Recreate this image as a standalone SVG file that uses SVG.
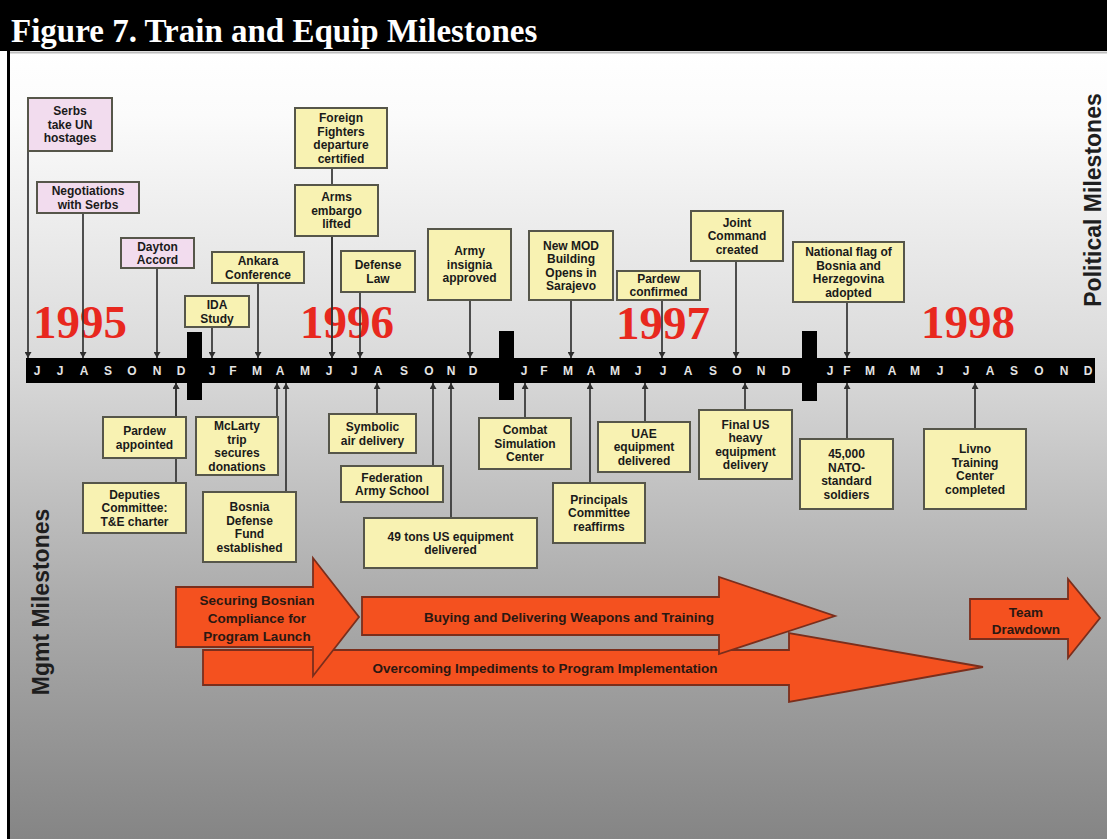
<svg xmlns="http://www.w3.org/2000/svg" width="1107" height="839" viewBox="0 0 1107 839">
<defs>
<linearGradient id="bg" x1="0" y1="0" x2="0" y2="1">
<stop offset="0" stop-color="#ffffff"/>
<stop offset="0.08" stop-color="#fbfbfb"/>
<stop offset="0.4" stop-color="#d9d9d9"/>
<stop offset="0.7" stop-color="#ababab"/>
<stop offset="1" stop-color="#858585"/>
</linearGradient>
<marker id="ah" markerUnits="userSpaceOnUse" markerWidth="7" markerHeight="7" refX="6" refY="3.5" orient="auto">
<path d="M0,0 L6,3.5 L0,7 Z" fill="#2e2e2e"/>
</marker>
<style>
.by{fill:#f8f2b2;stroke:#56564a;stroke-width:2}
.bp{fill:#f2dcee;stroke:#56564a;stroke-width:2}
.bt{font-family:"Liberation Sans",Arial,sans-serif;font-weight:bold;font-size:12px;fill:#1a1a1a;text-anchor:middle}
.conn{stroke:#333333;stroke-width:1.7;fill:none;marker-end:url(#ah)}
.month{font-family:"Liberation Sans",Arial,sans-serif;font-weight:bold;font-size:12px;fill:#e4e4e4;text-anchor:middle}
.year{font-family:"Liberation Serif","Times New Roman",serif;font-weight:bold;font-size:47px;fill:#e8281e;text-anchor:middle}
.arr{fill:#f4511f;stroke:#7a2e1c;stroke-width:1.8;stroke-linejoin:miter}
.at{font-family:"Liberation Sans",Arial,sans-serif;font-weight:bold;font-size:13.5px;fill:#2a1812;text-anchor:middle}
.side{font-family:"Liberation Sans",Arial,sans-serif;font-weight:bold;font-size:23px;fill:#1e1e1e;text-anchor:middle}
</style>
</defs>
<rect x="0" y="0" width="1107" height="839" fill="#ffffff"/>
<rect x="9" y="52" width="1098" height="787" fill="url(#bg)"/>
<rect x="0" y="0" width="1107" height="51" fill="#000000"/>
<line x1="9" y1="52.5" x2="1107" y2="52.5" stroke="#bdbdbd" stroke-width="2"/>
<rect x="7" y="51" width="3" height="788" fill="#000000"/>
<text x="11" y="42" font-family="Liberation Serif,'Times New Roman',serif" font-weight="bold" font-size="33" fill="#ffffff">Figure 7. Train and Equip Milestones</text>

<g id="side-labels">
<text class="side" transform="translate(1101,200) rotate(-90)">Political Milestones</text>
<text class="side" transform="translate(49,602) rotate(-90)">Mgmt Milestones</text>
</g>

<g id="timeline">
<rect x="187" y="332" width="15" height="68" fill="#000"/>
<rect x="499" y="331" width="15" height="69" fill="#000"/>
<rect x="802" y="331" width="15" height="70" fill="#000"/>
<rect x="26" y="358" width="1069" height="25" fill="#000"/>
<text class="month" y="375"><tspan x="37">J</tspan><tspan x="60">J</tspan><tspan x="84">A</tspan><tspan x="108">S</tspan><tspan x="132">O</tspan><tspan x="157">N</tspan><tspan x="181">D</tspan><tspan x="212">J</tspan><tspan x="233">F</tspan><tspan x="257">M</tspan><tspan x="280">A</tspan><tspan x="305">M</tspan><tspan x="329">J</tspan><tspan x="354">J</tspan><tspan x="378">A</tspan><tspan x="404">S</tspan><tspan x="429">O</tspan><tspan x="451">N</tspan><tspan x="473">D</tspan><tspan x="524">J</tspan><tspan x="544">F</tspan><tspan x="568">M</tspan><tspan x="591">A</tspan><tspan x="615">M</tspan><tspan x="638">J</tspan><tspan x="663">J</tspan><tspan x="688">A</tspan><tspan x="713">S</tspan><tspan x="737">O</tspan><tspan x="761">N</tspan><tspan x="786">D</tspan><tspan x="830">J</tspan><tspan x="847">F</tspan><tspan x="870">M</tspan><tspan x="892">A</tspan><tspan x="915">M</tspan><tspan x="940">J</tspan><tspan x="966">J</tspan><tspan x="990">A</tspan><tspan x="1014">S</tspan><tspan x="1039">O</tspan><tspan x="1064">N</tspan><tspan x="1088">D</tspan></text>
<text class="year" x="80" y="338">1995</text>
<text class="year" x="347" y="338">1996</text>
<text class="year" x="663" y="339">1997</text>
<text class="year" x="968" y="338">1998</text>
</g>

<g id="connectors">
<line class="conn" x1="28" y1="151" x2="28" y2="358"/>
<line class="conn" x1="83" y1="213" x2="83" y2="358"/>
<line class="conn" x1="157" y1="268" x2="157" y2="358"/>
<line class="conn" x1="212" y1="327" x2="212" y2="358"/>
<line class="conn" x1="258" y1="283" x2="258" y2="358"/>
<line class="conn" x1="332" y1="168" x2="332" y2="358"/>
<line class="conn" x1="332" y1="236" x2="332" y2="358"/>
<line class="conn" x1="360" y1="292" x2="360" y2="358"/>
<line class="conn" x1="470" y1="300" x2="470" y2="358"/>
<line class="conn" x1="571" y1="300" x2="571" y2="358"/>
<line class="conn" x1="662" y1="300" x2="662" y2="358"/>
<line class="conn" x1="736" y1="261" x2="736" y2="358"/>
<line class="conn" x1="847" y1="302" x2="847" y2="358"/>
<line class="conn" x1="176" y1="483" x2="176" y2="383"/>
<line class="conn" x1="176" y1="417" x2="176" y2="383"/>
<line class="conn" x1="277" y1="417" x2="277" y2="383"/>
<line class="conn" x1="286" y1="492" x2="286" y2="383"/>
<line class="conn" x1="377" y1="414" x2="377" y2="383"/>
<line class="conn" x1="433" y1="466" x2="433" y2="383"/>
<line class="conn" x1="451" y1="518" x2="451" y2="383"/>
<line class="conn" x1="525" y1="418" x2="525" y2="383"/>
<line class="conn" x1="590" y1="483" x2="590" y2="383"/>
<line class="conn" x1="645" y1="422" x2="645" y2="383"/>
<line class="conn" x1="745" y1="410" x2="745" y2="383"/>
<line class="conn" x1="847" y1="439" x2="847" y2="383"/>
<line class="conn" x1="975" y1="429" x2="975" y2="383"/>
</g>

<g id="n-serbs"><rect class="bp" x="28" y="98" width="84" height="53"/><text class="bt"><tspan x="70" y="115">Serbs</tspan><tspan x="70" y="128.5">take UN</tspan><tspan x="70" y="142">hostages</tspan></text></g>
<g id="n-negotiations"><rect class="bp" x="37" y="182" width="102" height="31"/><text class="bt"><tspan x="88" y="195">Negotiations</tspan><tspan x="88" y="208.5">with Serbs</tspan></text></g>
<g id="n-dayton"><rect class="bp" x="121" y="238" width="73" height="30"/><text class="bt"><tspan x="157.5" y="250.5">Dayton</tspan><tspan x="157.5" y="264">Accord</tspan></text></g>
<g id="n-ida"><rect class="by" x="185" y="296" width="64" height="31"/><text class="bt"><tspan x="217" y="309">IDA</tspan><tspan x="217" y="322.5">Study</tspan></text></g>
<g id="n-ankara"><rect class="by" x="212" y="252" width="92" height="31"/><text class="bt"><tspan x="258" y="265">Ankara</tspan><tspan x="258" y="278.5">Conference</tspan></text></g>
<g id="n-foreign"><rect class="by" x="295" y="108" width="92" height="60"/><text class="bt"><tspan x="341" y="122">Foreign</tspan><tspan x="341" y="135.5">Fighters</tspan><tspan x="341" y="149">departure</tspan><tspan x="341" y="162.5">certified</tspan></text></g>
<g id="n-arms"><rect class="by" x="295" y="185" width="83" height="51"/><text class="bt"><tspan x="336.5" y="201.3">Arms</tspan><tspan x="336.5" y="214.8">embargo</tspan><tspan x="336.5" y="228.3">lifted</tspan></text></g>
<g id="n-defense"><rect class="by" x="341" y="251" width="74" height="41"/><text class="bt"><tspan x="378" y="269">Defense</tspan><tspan x="378" y="282.5">Law</tspan></text></g>
<g id="n-insignia"><rect class="by" x="428" y="229" width="83" height="71"/><text class="bt"><tspan x="469.5" y="255.3">Army</tspan><tspan x="469.5" y="268.8">insignia</tspan><tspan x="469.5" y="282.3">approved</tspan></text></g>
<g id="n-mod"><rect class="by" x="529" y="231" width="84" height="69"/><text class="bt"><tspan x="571" y="249.5">New MOD</tspan><tspan x="571" y="263">Building</tspan><tspan x="571" y="276.5">Opens in</tspan><tspan x="571" y="290">Sarajevo</tspan></text></g>
<g id="n-pardew-c"><rect class="by" x="617" y="271" width="83" height="29"/><text class="bt"><tspan x="658.5" y="282.5">Pardew</tspan><tspan x="658.5" y="295.5">confirmed</tspan></text></g>
<g id="n-joint"><rect class="by" x="691" y="211" width="92" height="50"/><text class="bt"><tspan x="737" y="226.8">Joint</tspan><tspan x="737" y="240.3">Command</tspan><tspan x="737" y="253.8">created</tspan></text></g>
<g id="n-flag"><rect class="by" x="793" y="242" width="111" height="60"/><text class="bt"><tspan x="848.5" y="256">National flag of</tspan><tspan x="848.5" y="269.5">Bosnia and</tspan><tspan x="848.5" y="283">Herzegovina</tspan><tspan x="848.5" y="296.5">adopted</tspan></text></g>

<g id="n-pardew-a"><rect class="by" x="103" y="417" width="83" height="41"/><text class="bt"><tspan x="144.5" y="435">Pardew</tspan><tspan x="144.5" y="448.5">appointed</tspan></text></g>
<g id="n-deputies"><rect class="by" x="83" y="483" width="103" height="50"/><text class="bt"><tspan x="134.5" y="498.8">Deputies</tspan><tspan x="134.5" y="512.3">Committee:</tspan><tspan x="134.5" y="525.8">T&amp;E charter</tspan></text></g>
<g id="n-mclarty"><rect class="by" x="196" y="417" width="82" height="58"/><text class="bt"><tspan x="237" y="430">McLarty</tspan><tspan x="237" y="443.5">trip</tspan><tspan x="237" y="457">secures</tspan><tspan x="237" y="470.5">donations</tspan></text></g>
<g id="n-fund"><rect class="by" x="203" y="492" width="93" height="70"/><text class="bt"><tspan x="249.5" y="511">Bosnia</tspan><tspan x="249.5" y="524.5">Defense</tspan><tspan x="249.5" y="538">Fund</tspan><tspan x="249.5" y="551.5">established</tspan></text></g>
<g id="n-symbolic"><rect class="by" x="329" y="414" width="87" height="39"/><text class="bt"><tspan x="372.5" y="431">Symbolic</tspan><tspan x="372.5" y="444.5">air delivery</tspan></text></g>
<g id="n-federation"><rect class="by" x="341" y="466" width="102" height="36"/><text class="bt"><tspan x="392" y="481.5">Federation</tspan><tspan x="392" y="495">Army School</tspan></text></g>
<g id="n-49tons"><rect class="by" x="364" y="518" width="173" height="50"/><text class="bt"><tspan x="450.5" y="540.5">49 tons US equipment</tspan><tspan x="450.5" y="554">delivered</tspan></text></g>
<g id="n-combat"><rect class="by" x="479" y="418" width="92" height="51"/><text class="bt"><tspan x="525" y="434.3">Combat</tspan><tspan x="525" y="447.8">Simulation</tspan><tspan x="525" y="461.3">Center</tspan></text></g>
<g id="n-principals"><rect class="by" x="553" y="483" width="92" height="60"/><text class="bt"><tspan x="599" y="503.8">Principals</tspan><tspan x="599" y="517.3">Committee</tspan><tspan x="599" y="530.8">reaffirms</tspan></text></g>
<g id="n-uae"><rect class="by" x="598" y="422" width="92" height="50"/><text class="bt"><tspan x="644" y="437.8">UAE</tspan><tspan x="644" y="451.3">equipment</tspan><tspan x="644" y="464.8">delivered</tspan></text></g>
<g id="n-finalus"><rect class="by" x="699" y="410" width="93" height="69"/><text class="bt"><tspan x="745.5" y="428.5">Final US</tspan><tspan x="745.5" y="442">heavy</tspan><tspan x="745.5" y="455.5">equipment</tspan><tspan x="745.5" y="469">delivery</tspan></text></g>
<g id="n-45000"><rect class="by" x="800" y="439" width="93" height="70"/><text class="bt"><tspan x="846.5" y="458">45,000</tspan><tspan x="846.5" y="471.5">NATO-</tspan><tspan x="846.5" y="485">standard</tspan><tspan x="846.5" y="498.5">soldiers</tspan></text></g>
<g id="n-livno"><rect class="by" x="924" y="429" width="102" height="80"/><text class="bt"><tspan x="975" y="453">Livno</tspan><tspan x="975" y="466.5">Training</tspan><tspan x="975" y="480">Center</tspan><tspan x="975" y="493.5">completed</tspan></text></g>

<g id="phase-overcoming"><polygon class="arr" points="203,650 789,650 789,633 983,667 789,702 789,685 203,685"/><text class="at" x="545" y="673">Overcoming Impediments to Program Implementation</text></g>
<g id="phase-buying"><polygon class="arr" points="362,597 719,597 719,577 835,616 719,654 719,635 362,635"/><text class="at" x="569" y="622">Buying and Delivering Weapons and Training</text></g>
<g id="phase-securing"><polygon class="arr" points="176,587 313,587 313,558 359,617 313,676 313,647 176,647"/><text class="at"><tspan x="257" y="605">Securing Bosnian</tspan><tspan x="257" y="623">Compliance for</tspan><tspan x="257" y="641">Program Launch</tspan></text></g>
<g id="phase-drawdown"><polygon class="arr" points="970,599 1068,599 1068,579 1100,618 1068,658 1068,639 970,639"/><text class="at"><tspan x="1026" y="617">Team</tspan><tspan x="1026" y="634">Drawdown</tspan></text></g>
</svg>
